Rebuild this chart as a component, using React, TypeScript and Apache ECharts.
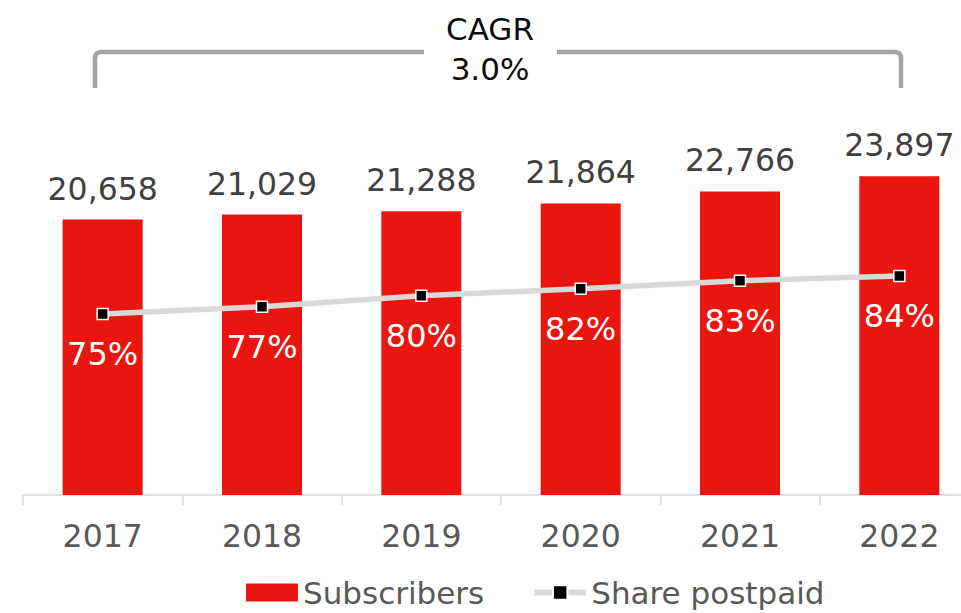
import React, { useEffect, useRef } from "react";
import * as echarts from "echarts";

const years = ["2017", "2018", "2019", "2020", "2021", "2022"];
const subscribers = [20658, 21029, 21288, 21864, 22766, 23897];
const shareValues = [75.0, 76.7, 79.3, 81.0, 82.9, 84.0];
const shareLabels = ["75%", "77%", "80%", "82%", "83%", "84%"];
const cagrLines = ["CAGR", "3.0%"];

const FONT = "'DejaVu Sans', Verdana, sans-serif";

export default function App() {
  const ref = useRef<HTMLDivElement>(null);
  useEffect(() => {
    if (!ref.current) return;
    const chart = echarts.init(ref.current, undefined, { renderer: "svg" });
    const bracketColor = "#a6a6a6";
    chart.setOption({
      animation: false,
      textStyle: { fontFamily: FONT },
      grid: { left: 23, right: 2, top: 95, bottom: 118, containLabel: false },
      legend: {
        left: 241,
        top: 572,
        itemWidth: 52,
        itemHeight: 18,
        itemGap: 47,
        textStyle: { fontFamily: FONT, fontSize: 31, color: "#595959" },
        data: [
          { name: "Subscribers", icon: "rect" },
          {
            name: "Share postpaid",
            lineStyle: { width: 6, color: "#d9d9d9" },
          },
        ],
      },
      xAxis: {
        type: "category",
        data: years,
        axisLine: { show: true, lineStyle: { color: "#d9d9d9", width: 1.5 } },
        axisTick: { show: true, alignWithLabel: false, interval: 0, length: 10, lineStyle: { color: "#d9d9d9", width: 1.5 } },
        axisLabel: { margin: 25, fontSize: 31.5, color: "#595959", fontFamily: FONT },
      },
      yAxis: [
        { type: "value", min: 0, max: 30000, show: false, splitLine: { show: false } },
        { type: "value", min: 32, max: 127, show: false, splitLine: { show: false } },
      ],
      series: [
        {
          name: "Subscribers",
          type: "bar",
          data: subscribers,
          barWidth: 80,
          itemStyle: { color: "#e9150e" },
          label: {
            show: true,
            position: "top",
            distance: 15,
            fontSize: 31.5,
            color: "#404040",
            fontFamily: FONT,
            formatter: (p: any) => p.value.toLocaleString("en-US"),
          },
        },
        {
          name: "Share postpaid",
          type: "line",
          yAxisIndex: 1,
          data: shareValues,
          symbol: "rect",
          symbolSize: 11,
          lineStyle: { color: "#d9d9d9", width: 5.5 },
          itemStyle: { color: "#000000", borderColor: "#ffffff", borderWidth: 1.5 },
          label: {
            show: true,
            position: "inside",
            offset: [0, 40],
            fontSize: 32,
            color: "#ffffff",
            fontFamily: FONT,
            formatter: (p: any) => shareLabels[p.dataIndex],
          },
        },
      ],
      graphic: [
        {
          type: "polyline",
          shape: { points: [[95, 88], [95, 57], [96.5, 53.5], [100, 52], [424, 52]] },
          style: { stroke: bracketColor, lineWidth: 4.5, fill: null, lineJoin: "round" },
        },
        {
          type: "polyline",
          shape: { points: [[557, 52], [896, 52], [899.5, 53.5], [901, 57], [901, 88]] },
          style: { stroke: bracketColor, lineWidth: 4.5, fill: null, lineJoin: "round" },
        },
        {
          type: "text",
          x: 490,
          y: 29,
          style: {
            text: cagrLines[0],
            fontSize: 31,
            fontFamily: FONT,
            fill: "#0d0d0d",
            align: "center",
            verticalAlign: "middle",
          },
        },
        {
          type: "text",
          x: 490,
          y: 69,
          style: {
            text: cagrLines[1],
            fontSize: 31,
            fontFamily: FONT,
            fill: "#0d0d0d",
            align: "center",
            verticalAlign: "middle",
          },
        },
      ],
    });
    return () => chart.dispose();
  }, []);
  return (
    <div
      style={{
        position: "absolute",
        left: 0,
        top: 0,
        width: 961,
        height: 613,
        overflow: "hidden",
      }}
    >
      <div ref={ref} style={{ width: 981, height: 613 }} />
    </div>
  );
}
